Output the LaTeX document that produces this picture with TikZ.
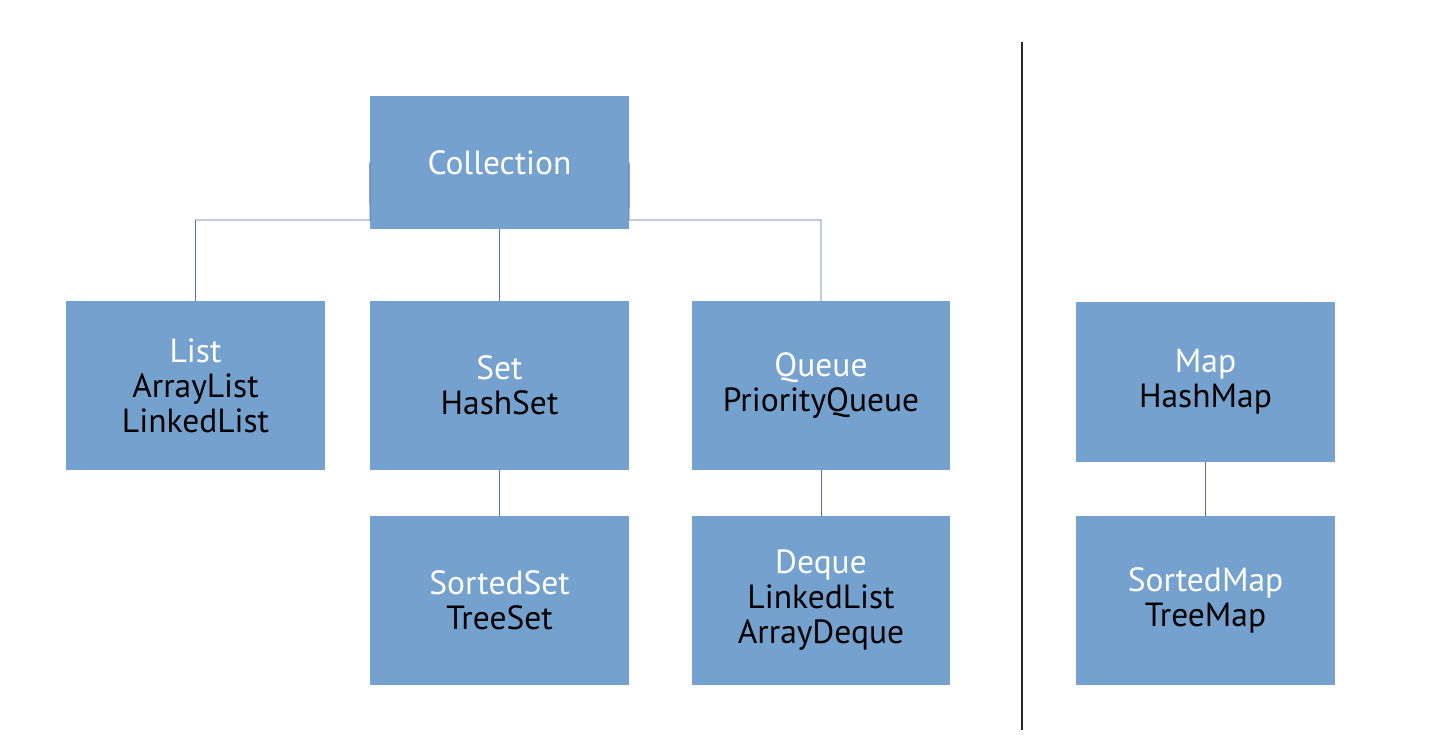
\documentclass[tikz,border=0pt]{standalone}
\usepackage{fontspec}
\setmainfont{PT Sans}
\definecolor{boxfill}{RGB}{116,161,205}
\definecolor{linkcol}{RGB}{84,112,170}
\definecolor{sepcol}{RGB}{40,40,40}
\begin{document}
\begin{tikzpicture}[x=1pt,y=-1pt,
  box/.style={fill=boxfill,draw=none,inner sep=0pt,align=center,
    font=\fontsize{33.5}{35}\selectfont,text=black},
  link/.style={draw=linkcol,line width=0.9pt}]
\useasboundingbox (0,0) rectangle (1454,734);
\fill[white] (0,0) rectangle (1454,734);
\coordinate (cl) at (370,220);
\coordinate (cr) at (629,220);
\node[box,minimum width=259pt,minimum height=133pt] (coll) at (499.5,162.5) {\textcolor{white}{Collection}};
\node[box,minimum width=259pt,minimum height=169pt] (list) at (195.5,385.5) {\textcolor{white}{List}\\ArrayList\\LinkedList};
\node[box,minimum width=259pt,minimum height=169pt] (set) at (499.5,385.5) {\textcolor{white}{Set}\\HashSet};
\node[box,minimum width=258pt,minimum height=169pt] (queue) at (821,385.5) {\textcolor{white}{Queue}\\PriorityQueue};
\node[box,minimum width=259pt,minimum height=169pt] (sset) at (499.5,600.5) {\textcolor{white}{SortedSet}\\TreeSet};
\node[box,minimum width=258pt,minimum height=169pt] (deque) at (821,600.5) {\textcolor{white}{Deque}\\LinkedList\\ArrayDeque};
\node[box,minimum width=259pt,minimum height=160pt] (map) at (1205.5,382) {\textcolor{white}{Map}\\HashMap};
\node[box,minimum width=259pt,minimum height=169pt] (smap) at (1205.5,600.5) {\textcolor{white}{SortedMap}\\TreeMap};
\draw[link] (coll.west) -- (cl) -| (list.north);
\draw[link] (coll.east) -- (cr) -| (queue.north);
\draw[link] (coll.south) -- (set.north);
\draw[link] (set.south) -- (sset.north);
\draw[link] (queue.south) -- (deque.north);
\draw[link] (map.south) -- (smap.north);
\coordinate (st) at (1022,42);
\coordinate (sb) at (1022,730);
\draw[sepcol,line width=1.2pt] (st) -- (sb);
\end{tikzpicture}
\end{document}
